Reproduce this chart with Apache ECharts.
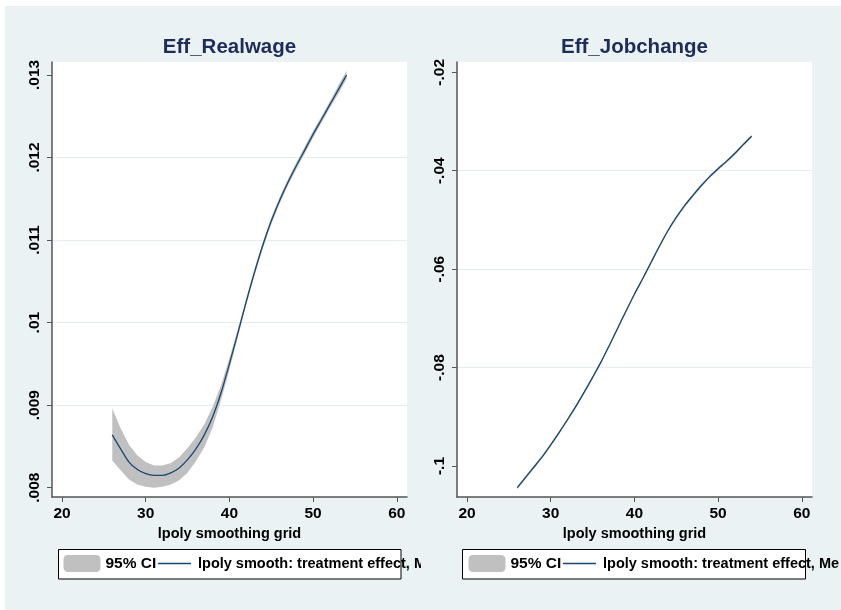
<!DOCTYPE html>
<html>
<head>
<meta charset="utf-8">
<script src="https://cdn.jsdelivr.net/npm/echarts@6/dist/echarts.min.js"></script>
<style>
html,body{margin:0;padding:0;background:#fff;}
#chart{width:841px;height:610px;}
</style>
</head>
<body>
<div id="chart"></div>
<script>
// ---- data ----
const panelTitles = ['Eff_Realwage', 'Eff_Jobchange'];
const xName = 'lpoly smoothing grid';
const ciName = '95% CI';
const lineName = 'lpoly smooth: treatment effect, Me';
const xTicks = [20, 30, 40, 50, 60];
const xGrid = [26,27,28,29,30,31,32,33,34,35,36,37,38,39,40,41,42,43,44,45,46,47,48,49,50,51,52,53,54];

// Eff_Realwage
const effRealwage = [.00864,.00847,.00831,.00822,.00817,.00815,.00815,.00818,.00824,.00834,.00847,.00864,.00886,.00915,.00950,.00987,.01025,.01061,.01094,.01123,.01148,.01170,.01190,.01209,.01228,.01246,.01264,.01282,.01300];
const ciLowRealwage = [.00833,.00821,.00810,.00804,.00801,.00800,.00801,.00804,.00809,.00818,.00832,.00849,.00873,.00906,.00943,.00982,.01021,.01057,.01090,.01119,.01144,.01166,.01186,.01205,.01224,.01242,.01260,.01277,.01295];
const ciHighRealwage = [.00896,.00872,.00852,.00839,.00831,.00827,.00827,.00830,.00837,.00848,.00861,.00877,.00898,.00924,.00957,.00992,.01029,.01065,.01098,.01127,.01152,.01174,.01194,.01213,.01232,.01250,.01268,.01287,.01305];
const yTicksRealwage = [.008, .009, .010, .011, .012, .013];
const yLabelsRealwage = ['.008', '.009', '.01', '.011', '.012', '.013'];

// Eff_Jobchange
const effJobchange = [-.1044,-.1023,-.1002,-.0981,-.0957,-.0932,-.0906,-.0879,-.0850,-.0820,-.0789,-.0755,-.0720,-.0685,-.0651,-.0619,-.0586,-.0553,-.0522,-.0495,-.0471,-.0450,-.0430,-.0412,-.0396,-.0381,-.0365,-.0347,-.0330];
const ciLowJobchange = [-.1047,-.1026,-.1005,-.0984,-.0960,-.0935,-.0909,-.0882,-.0853,-.0823,-.0792,-.0758,-.0723,-.0688,-.0654,-.0622,-.0589,-.0556,-.0525,-.0498,-.0474,-.0453,-.0433,-.0415,-.0399,-.0384,-.0368,-.0350,-.0333];
const ciHighJobchange = [-.1041,-.1020,-.0999,-.0978,-.0954,-.0929,-.0903,-.0876,-.0847,-.0817,-.0786,-.0752,-.0717,-.0682,-.0648,-.0616,-.0583,-.0550,-.0519,-.0492,-.0468,-.0447,-.0427,-.0409,-.0393,-.0378,-.0362,-.0344,-.0327];
const yTicksJobchange = [-.1, -.08, -.06, -.04, -.02];
const yLabelsJobchange = ['-.1', '-.08', '-.06', '-.04', '-.02'];

// ---- styles ----
const NAVY = '#1a476f';
const CI_GRAY = '#c0c0c0';
const BG = '#eaf2f3';
const AXIS_COL = '#555';
const FONT = 'Liberation Sans, Arial, sans-serif';

function labelFor(ticks, labels) {
  return function (v) {
    for (let i = 0; i < ticks.length; i++) {
      if (Math.abs(v - ticks[i]) < 1e-9) return labels[i];
    }
    return '';
  };
}

function xAxisOpt(gi) {
  return {
    type: 'value', gridIndex: gi, min: 18.8, max: 61.22,
    name: xName, nameLocation: 'middle', nameGap: 26,
    nameTextStyle: {fontFamily: FONT, fontWeight: 'bold', fontSize: 14.5, color: '#000'},
    axisLine: {show: true, onZero: false, lineStyle: {color: AXIS_COL, width: 1.5}},
    axisTick: {show: true, length: 5, customValues: xTicks, lineStyle: {color: AXIS_COL, width: 1}},
    axisLabel: {customValues: xTicks, margin: 9, fontFamily: FONT, fontWeight: 'bold', fontSize: 15.5, color: '#000'},
    splitLine: {show: false}
  };
}

function yAxisOpt(gi, min, max, ticks, labels) {
  return {
    type: 'value', gridIndex: gi, min: min, max: max, splitNumber: 5,
    axisLine: {show: true, onZero: false, lineStyle: {color: AXIS_COL, width: 1.5}},
    axisTick: {show: true, length: 5, customValues: ticks, lineStyle: {color: AXIS_COL, width: 1}},
    axisLabel: {customValues: ticks, rotate: 90, margin: 9, fontFamily: FONT, fontWeight: 'bold', fontSize: 15.5, color: '#000',
      formatter: labelFor(ticks, labels)},
    splitLine: {show: true, showMinLine: false, showMaxLine: false, lineStyle: {color: '#e4eef0', width: 1}}
  };
}

function ciSeries(gi, lo, hi) {
  return {
    type: 'custom', name: ciName, xAxisIndex: gi, yAxisIndex: gi,
    itemStyle: {color: CI_GRAY}, clip: true, silent: true, z: 1,
    data: [[xGrid[0], lo[0]]],
    renderItem: function (params, api) {
      if (params.dataIndex !== 0) return null;
      const pts = [];
      for (let i = 0; i < xGrid.length; i++) pts.push(api.coord([xGrid[i], lo[i]]));
      for (let i = xGrid.length - 1; i >= 0; i--) pts.push(api.coord([xGrid[i], hi[i]]));
      return {type: 'polygon', shape: {points: pts}, style: {fill: CI_GRAY}};
    }
  };
}

function lineSeries(gi, vals) {
  return {
    type: 'line', name: lineName, xAxisIndex: gi, yAxisIndex: gi,
    data: xGrid.map((x, i) => [x, vals[i]]),
    showSymbol: false, symbol: 'none', smooth: 0.3, z: 3, silent: true,
    itemStyle: {color: NAVY},
    lineStyle: {color: NAVY, width: 1.3}
  };
}

function ciLegend(left) {
  return {
    left: left, top: 555, padding: 0, itemGap: 0, selectedMode: false,
    itemWidth: 37, itemHeight: 17,
    data: [{name: ciName, icon: 'roundRect'}],
    textStyle: {fontFamily: FONT, fontWeight: 'bold', fontSize: 15.5, color: '#000'}
  };
}

function lineLegend(left) {
  return {
    left: left, top: 556, padding: 0, itemGap: 0, selectedMode: false,
    itemWidth: 33, itemHeight: 1.4,
    data: [{name: lineName, icon: 'rect', itemStyle: {color: NAVY}}],
    textStyle: {fontFamily: FONT, fontWeight: 'bold', fontSize: 14.5, color: '#000', padding: [0, 0, 0, 2]}
  };
}

const chart = echarts.init(document.getElementById('chart'), null, {renderer: 'canvas'});
chart.setOption({
  animation: false,
  backgroundColor: '#fff',
  graphic: [
    {type: 'rect', z: -100, shape: {x: 5, y: 6, width: 836, height: 604}, style: {fill: BG}},
    {type: 'rect', z: 1, shape: {x: 58.5, y: 549.5, width: 342.5, height: 29.5}, style: {fill: '#fff', stroke: '#000', lineWidth: 1}},
    {type: 'rect', z: 1, shape: {x: 462.5, y: 549.5, width: 343, height: 29.5}, style: {fill: '#fff', stroke: '#000', lineWidth: 1}},
    {type: 'rect', z: 100, shape: {x: 421, y: 549, width: 41, height: 31}, style: {fill: BG}}
  ],
  title: [
    {text: panelTitles[0], left: 229.5, top: 37, textAlign: 'center', padding: 0,
      textStyle: {fontFamily: FONT, fontWeight: 'bold', fontSize: 20.5, color: '#1e2c58'}},
    {text: panelTitles[1], left: 634.5, top: 37, textAlign: 'center', padding: 0,
      textStyle: {fontFamily: FONT, fontWeight: 'bold', fontSize: 20.5, color: '#1e2c58'}}
  ],
  grid: [
    {left: 52, top: 62, width: 355, height: 435, show: true, backgroundColor: '#fff', borderWidth: 0},
    {left: 457, top: 62, width: 355, height: 435, show: true, backgroundColor: '#fff', borderWidth: 0}
  ],
  xAxis: [xAxisOpt(0), xAxisOpt(1)],
  yAxis: [
    yAxisOpt(0, 0.0078873, 0.013157, yTicksRealwage, yLabelsRealwage),
    yAxisOpt(1, -0.1063, -0.017907, yTicksJobchange, yLabelsJobchange)
  ],
  legend: [ciLegend(63.5), lineLegend(158), ciLegend(468.5), lineLegend(563)],
  series: [
    ciSeries(0, ciLowRealwage, ciHighRealwage),
    lineSeries(0, effRealwage),
    ciSeries(1, ciLowJobchange, ciHighJobchange),
    lineSeries(1, effJobchange)
  ]
});
</script>
</body>
</html>
